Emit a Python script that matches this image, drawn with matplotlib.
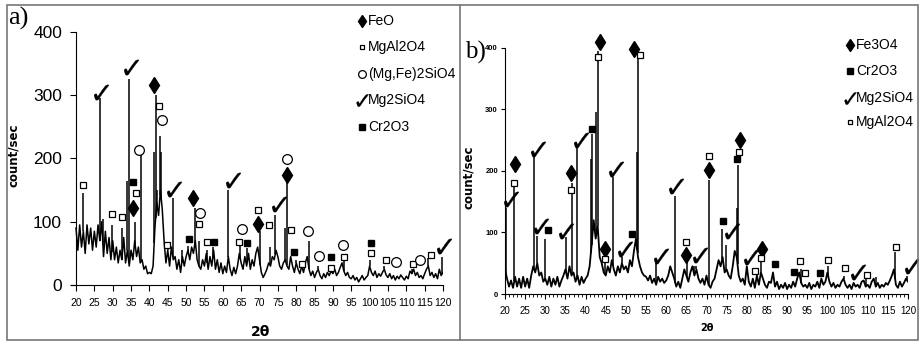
import numpy as np
import matplotlib
matplotlib.use("Agg")
import matplotlib.pyplot as plt
from matplotlib import font_manager
from matplotlib.lines import Line2D
from matplotlib.patches import Rectangle

names = {f.name for f in font_manager.fontManager.ttflist}
NARROW = "Liberation Sans Narrow" if "Liberation Sans Narrow" in names else "Liberation Sans"
SERIF = "Liberation Serif"
CHECK = "$\u2713$"

# 2-theta grid for the background trace (0.5 deg steps, 20..120)
theta = np.arange(20, 120.01, 0.5)

# ---- panel a: background counts ----
a_bg = [
    90, 55, 95, 60, 85, 50, 95, 65, 90, 55,
    85, 60, 95, 70, 100, 45, 85, 50, 75, 40,
    70, 40, 60, 35, 55, 40, 75, 35, 55, 30,
    55, 40, 70, 45, 60, 35, 40, 25, 30, 18,
    20, 18, 30, 90, 130, 110, 150, 120, 70, 35,
    55, 30, 60, 40, 45, 25, 40, 20, 45, 30,
    45, 55, 40, 60, 50, 70, 40, 30, 25, 40,
    30, 50, 25, 45, 30, 55, 25, 40, 20, 35,
    18, 30, 20, 45, 25, 15, 28, 18, 30, 50,
    35, 25, 45, 30, 50, 25, 40, 30, 50, 60,
    40, 20, 12, 18, 25, 35, 30, 45, 40, 55,
    45, 30, 25, 35, 40, 30, 25, 45, 30, 20,
    35, 25, 18, 30, 20, 35, 45, 25, 15, 22,
    12, 20, 25, 15, 10, 18, 12, 20, 15, 22,
    18, 25, 15, 20, 28, 35, 22, 15, 20, 12,
    10, 15, 8, 12, 5, 10, 15, 8, 12, 15,
    30, 20, 15, 22, 12, 18, 14, 20, 25, 16,
    12, 18, 10, 15, 8, 14, 10, 16, 12, 8,
    14, 10, 22, 18, 25, 15, 20, 12, 15, 10,
    18, 25, 30, 15, 20, 12, 18, 10, 25, 15,
    20,
]
a_peak_pos = [22.0, 26.5, 27.3, 29.7, 32.5, 34.0, 34.4, 36.2, 37.8, 41.3,
              41.7, 42.2, 42.9, 43.2, 45.0, 46.4, 48.8, 50.6, 52.3, 53.5,
              55.8, 57.3, 61.5, 64.8, 66.7, 70.2, 72.9, 74.3, 77.0, 77.4,
              80.0, 83.5, 86.0, 93.0, 100.0, 104.0, 111.5, 116.0, 119.7]
a_peak_h = [145, 295, 105, 95, 90, 165, 325, 100, 205, 210,
            300, 150, 235, 210, 60, 137, 55, 62, 122, 70,
            55, 60, 150, 65, 58, 85, 60, 110, 90, 165,
            40, 70, 30, 40, 40, 30, 25, 42, 45]

a_feo_x = [35.6, 41.3, 52.0, 69.7, 77.5]
a_feo_y = [122, 316, 138, 96, 174]
a_spinel_x = [22.0, 29.7, 32.5, 36.4, 42.7, 44.7, 53.5, 55.8, 64.5, 69.5,
              72.5, 78.5, 81.7, 89.5, 92.9, 100.4, 104.5, 111.8, 116.7]
a_spinel_y = [158, 113, 108, 145, 282, 64, 96, 68, 68, 118,
              95, 87, 34, 27, 45, 50, 40, 34, 48]
a_olivine_x = [37.3, 43.3, 53.8, 65.1, 77.5, 83.1, 86.1, 92.7, 107.3, 113.8]
a_olivine_y = [214, 260, 114, 89, 199, 86, 46, 63, 36, 39]
a_forst_x = [26.8, 35.0, 46.8, 62.8, 75.4, 120.4]
a_forst_y = [305, 345, 152, 166, 128, 62]
a_cr_x = [35.6, 50.9, 57.6, 66.5, 79.5, 89.5, 100.4]
a_cr_y = [163, 73, 68, 66, 53, 44, 66]

# ---- panel b ----
b_bg = [
    40, 25, 12, 22, 10, 28, 12, 25, 10, 28,
    12, 25, 10, 30, 45, 35, 50, 30, 35, 20,
    25, 15, 28, 12, 25, 15, 28, 12, 22, 30,
    40, 25, 45, 30, 35, 20, 30, 15, 28, 18,
    25, 30, 45, 80, 120, 90, 110, 60, 50, 35,
    30, 45, 35, 55, 40, 30, 45, 35, 50, 40,
    45, 35, 55, 45, 70, 90, 60, 45, 35, 30,
    28, 22, 30, 18, 25, 15, 28, 20, 25, 18,
    22, 30, 45, 35, 25, 12, 20, 10, 25, 40,
    30, 20, 35, 45, 30, 40, 25, 18, 25, 15,
    30, 15, 10, 20, 25, 40, 55, 45, 60, 35,
    40, 30, 25, 45, 70, 60, 30, 20, 25, 15,
    45, 20, 12, 25, 10, 30, 15, 35, 25, 15,
    10, 20, 18, 35, 12, 20, 8, 15, 10, 18,
    8, 15, 10, 20, 12, 25, 35, 18, 12, 15,
    10, 18, 8, 15, 12, 20, 10, 25, 15, 20,
    35, 20, 12, 18, 10, 15, 12, 20, 25, 15,
    10, 15, 8, 18, 12, 15, 10, 20, 22, 12,
    15, 10, 20, 25, 12, 18, 10, 15, 12, 18,
    15, 22, 30, 40, 15, 10, 20, 12, 18, 25,
    20,
]
b_peak_pos = [20.3, 22.3, 27.2, 28.0, 30.0, 35.2, 36.6, 37.8, 41.3, 41.5,
              42.7, 43.0, 44.7, 46.8, 49.0, 52.8, 52.9, 57.4, 62.3, 65.2,
              66.8, 67.5, 70.5, 73.9, 74.9, 77.5, 77.7, 80.0, 83.5, 86.5,
              93.5, 100.2, 104.0, 109.5, 112.0, 116.8, 119.8]
b_peak_h = [140, 185, 228, 95, 90, 93, 180, 240, 220, 260,
            295, 395, 50, 190, 60, 230, 385, 50, 160, 60,
            45, 45, 185, 105, 80, 140, 210, 45, 60, 35,
            40, 45, 30, 25, 28, 68, 30]

b_fe3o4_x = [22.5, 36.5, 43.6, 44.9, 52.1, 65.0, 70.7, 78.3, 83.7]
b_fe3o4_y = [211, 196, 410, 73, 398, 64, 202, 250, 73]
b_cr_x = [30.7, 41.7, 51.5, 74.0, 77.6, 86.9, 91.7, 98.1]
b_cr_y = [104, 268, 97, 118, 219, 48, 35, 34]
b_forst_x = [21.4, 28.2, 29.0, 35.2, 38.8, 47.6, 49.8, 58.6, 62.4, 68.5,
             76.3, 81.0, 107.7, 121.0]
b_forst_y = [154, 236, 110, 103, 251, 203, 73, 62, 175, 64, 102, 60, 35, 46]
b_spinel_x = [22.2, 36.5, 43.1, 44.7, 53.5, 65.0, 70.5, 78.1, 82.0, 83.5,
              93.1, 94.4, 100.2, 104.3, 109.8, 116.9]
b_spinel_y = [180, 169, 385, 57, 388, 84, 225, 231, 37, 58,
              54, 34, 56, 42, 31, 77]

STYLE = {
    "diamond": dict(marker="d", ms=8, mfc="black", mec="black"),
    "osq": dict(marker="s", ms=4.2, mfc="white", mec="black", mew=0.9),
    "circ": dict(marker="o", ms=7, mfc="white", mec="black", mew=0.9),
    "check": dict(marker=CHECK, ms=11, mfc="black", mec="black", mew=0.2),
    "fsq": dict(marker="s", ms=5, mfc="black", mec="black"),
}


def trace(ax, bg, pos, h, lw):
    ax.plot(theta, bg, color="black", lw=lw)
    base = np.interp(pos, theta, bg)
    ax.vlines(pos, base, h, color="black", lw=1.1)


def marks(ax, xs, ys, kind):
    ax.plot(xs, ys, ls="none", clip_on=False, zorder=5, **STYLE[kind])


def legend(fig, x_m, x_t, rows, size):
    for y_px, kind, label in rows:
        y = 1 - y_px / 341
        st = dict(STYLE[kind])
        st["ms"] = st["ms"] * 0.8
        fig.add_artist(Line2D([x_m], [y], transform=fig.transFigure, ls="none", **st))
        fig.text(x_t, y, label, family=NARROW, fontsize=size, va="center")


fig = plt.figure(figsize=(9.2, 3.41), dpi=100)

# panel a
ax = fig.add_axes([70.5 / 920, 0.164, 372.5 / 920, 0.743])
trace(ax, a_bg, a_peak_pos, a_peak_h, 1.1)
marks(ax, a_feo_x, a_feo_y, "diamond")
marks(ax, a_spinel_x, a_spinel_y, "osq")
marks(ax, a_olivine_x, a_olivine_y, "circ")
marks(ax, a_forst_x, a_forst_y, "check")
marks(ax, a_cr_x, a_cr_y, "fsq")
ax.set_xlim(18.5, 120)
ax.set_ylim(0, 400)
ax.spines["left"].set_position(("data", 20))
ax.spines[["top", "right"]].set_visible(False)
ax.set_xticks(range(20, 121, 5))
ax.set_yticks([0, 100, 200, 300, 400])
ax.tick_params(axis="x", length=4, width=0.8, pad=5, labelsize=7.5)
ax.tick_params(axis="y", length=4, width=0.8, pad=6, labelsize=12.5)
for t in ax.get_xticklabels() + ax.get_yticklabels():
    t.set_family(NARROW)
ax.set_xlabel("2θ", fontsize=10, fontweight="bold", va="center")
ax.xaxis.set_label_coords(0.51, -0.185)
ax.set_ylabel("count/sec", fontsize=8.5, fontweight="bold")
ax.yaxis.set_label_coords(-0.136, 0.513)
fig.text(8 / 920, 1 - 18 / 341, "a)", family=SERIF, fontsize=19, va="center")
legend(fig, 362 / 920, 368 / 920,
       [(21, "diamond", "FeO"), (47, "osq", "MgAl2O4"),
        (74, "circ", "(Mg,Fe)2SiO4"), (100, "check", "Mg2SiO4"),
        (127, "fsq", "Cr2O3")], 10)

# panel b
bx = fig.add_axes([505 / 920, 0.1378, 403 / 920, 0.722])
trace(bx, b_bg, b_peak_pos, b_peak_h, 1.3)
marks(bx, b_fe3o4_x, b_fe3o4_y, "diamond")
marks(bx, b_cr_x, b_cr_y, "fsq")
marks(bx, b_forst_x, b_forst_y, "check")
marks(bx, b_spinel_x, b_spinel_y, "osq")
bx.set_xlim(20, 120)
bx.set_ylim(0, 400)
bx.spines[["top", "right"]].set_visible(False)
bx.set_xticks(range(20, 121, 5))
bx.set_xticks(range(20, 121, 1), minor=True)
bx.set_yticks([0, 100, 200, 300, 400])
bx.tick_params(axis="x", which="major", length=3.5, width=0.8, pad=5, labelsize=7)
bx.tick_params(axis="x", which="minor", length=2.5, width=0.6)
bx.tick_params(axis="y", length=3, width=0.8, pad=2, labelsize=5.5)
for t in bx.get_xticklabels():
    t.set_family(NARROW)
for t in bx.get_yticklabels():
    t.set_family(NARROW)
    t.set_fontweight("bold")
bx.set_xlabel("2θ", fontsize=7, fontweight="bold", va="center")
bx.xaxis.set_label_coords(0.5, -0.138)
bx.set_ylabel("count/sec", fontsize=8.5, fontweight="bold")
bx.yaxis.set_label_coords(-0.075, 0.476)
fig.text(465 / 920, 1 - 52 / 341, "b)", family=SERIF, fontsize=18, va="center")
legend(fig, 850 / 920, 856 / 920,
       [(45, "diamond", "Fe3O4"), (71, "fsq", "Cr2O3"),
        (98, "check", "Mg2SiO4"), (122, "osq", "MgAl2O4")], 10)

# frame and divider
fig.add_artist(Rectangle((7 / 920, 1 / 341), 911 / 920, 335 / 341,
                         transform=fig.transFigure, fill=False,
                         ec="#777777", lw=1.2))
fig.add_artist(Line2D([460 / 920, 460 / 920], [1 / 341, 336 / 341],
                      transform=fig.transFigure, color="#777777", lw=1.2))

fig.savefig("out.png", dpi=100)
